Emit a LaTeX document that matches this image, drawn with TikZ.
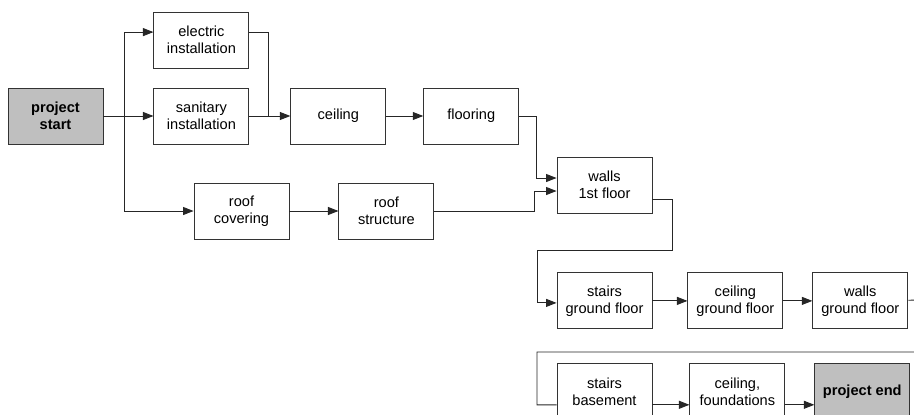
\documentclass[tikz,border=0pt]{standalone}
\usepackage{fontspec}
\setmainfont{Liberation Sans}
\usetikzlibrary{arrows.meta,positioning}
\tikzset{
  task/.style={rectangle, draw=black!80, line width=0.9pt, fill=white, align=center,
    inner sep=2pt, minimum width=95pt, minimum height=56pt,
    font=\fontsize{14.6}{16.7}\selectfont},
  milestone/.style={fill=black!25, font=\fontsize{14.6}{16.7}\selectfont\bfseries},
  link/.style={draw=black!85, line width=0.9pt},
  flow/.style={link, -{Triangle[length=10.5pt,width=8pt]}},
}

\begin{document}
\begin{tikzpicture}[x=1pt, y=-1pt]
    \useasboundingbox (0,0) rectangle (914,415);
    \clip (0,0) rectangle (914,415);

    % first floor work
    \node[task, milestone] (start) at (55.5,116) {project\\start};
    \node[task, right=50pt of start] (sanit) {sanitary\\installation};
    \node[task, above=19pt of sanit] (elec) {electric\\installation};
    \node[task, right=41pt of sanit] (ceil) {ceiling};
    \node[task, right=37pt of ceil] (floor) {flooring};
    \node[task] (roofc) at (241.5,211) {roof\\covering};
    \node[task, right=49pt of roofc] (roofs) {roof\\structure};
    \node[task] (walls1) at (604.5,185) {walls\\1st floor};

    % ground floor and basement
    \node[task, below=59pt of walls1] (stairsgf) {stairs\\ground floor};
    \node[task, right=35pt of stairsgf] (ceilgf) {ceiling\\ground floor};
    \node[task, right=29pt of ceilgf] (wallsgf) {walls\\ground floor};
    \node[task, below=34pt of stairsgf] (stairsb) {stairs\\basement};
    \node[task, right=37pt of stairsb] (ceilf) {ceiling,\\foundations};
    \node[task, milestone, right=29pt of ceilf] (pend) {project end};

    \coordinate (br) at (124,116);
    \coordinate (jn) at (268,116);
    \coordinate (wr) at (672,250);
    \coordinate (wl) at (537,250);
    \coordinate (e0) at (925,300);
    \coordinate (e1) at (925,352);
    \coordinate (e2) at (537,352);

    \draw[flow] (start) -- (sanit);
    \draw[flow] (br) |- ([yshift=8pt]elec.west);
    \draw[flow] (br) |- (roofc);
    \draw[link] ([yshift=8pt]elec.east) -| (jn);
    \draw[flow] (sanit) -- (ceil);
    \draw[flow] (ceil) -- (floor);
    \draw[flow] (roofc) -- (roofs);
    \draw[flow] (floor) -| ([xshift=-20pt,yshift=7pt]walls1.west) -- ([yshift=7pt]walls1.west);
    \draw[flow] (roofs) -| ([xshift=-22pt,yshift=-6pt]walls1.west) -- ([yshift=-6pt]walls1.west);
    \draw[flow] ([yshift=-14pt]walls1.east) -| (wr) -- (wl) |- ([yshift=-2pt]stairsgf.west);
    \draw[flow] (stairsgf) -- (ceilgf);
    \draw[flow] (ceilgf) -- (wallsgf);
    \draw[link] (wallsgf) -- (e0) -- (e1) -- (e2) |- ([yshift=-13pt]stairsb.west);
    \draw[flow] ([yshift=-13pt]stairsb.east) -- ([yshift=-13pt]ceilf.west);
    \draw[flow] ([yshift=-13pt]ceilf.east) -- ([yshift=-13pt]pend.west);
\end{tikzpicture}
\end{document}
